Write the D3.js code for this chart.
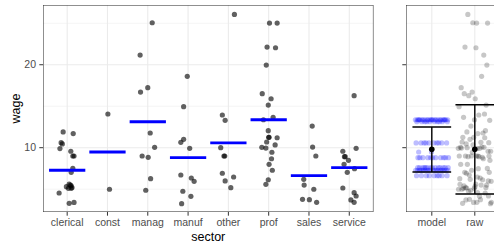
<!DOCTYPE html>
<html>
<head>
<meta charset="utf-8">
<script src="https://cdn.jsdelivr.net/npm/d3@7"></script>
<style>
  html, body { margin: 0; padding: 0; background: #fff; }
  svg { display: block; font-family: "Liberation Sans", Arial, sans-serif; }
</style>
</head>
<body>
<svg id="viz" width="494" height="248"></svg>
<script>
// wage by sector: jittered raw points + group means on the left,
// model fit vs raw data (mean +/- sd) on the right.

const sectors = ["clerical", "const", "manag", "manuf", "other", "prof", "sales", "service"];

// wages, one list per sector (same order as sectors)
const sectorWages = [
  [11.9, 11.7, 10.6, 10.45, 9.9, 9.57, 9.0, 9.0, 7.5, 7.03, 5.6, 5.5, 5.4, 5.3, 5.2, 5.1, 5.1, 4.54, 3.3, 3.4],
  [14.06, 4.99],
  [25.06, 21.17, 17.23, 16.71, 11.77, 10.05, 9.0, 8.84, 6.27, 4.87],
  [18.6, 14.94, 11.01, 10.65, 9.93, 6.71, 6.35, 5.95, 4.75, 4.14, 3.25],
  [26.07, 13.94, 13.3, 10.0, 9.0, 9.0, 6.92, 6.47, 5.99, 5.18],
  [25.02, 25.02, 22.13, 22.05, 19.96, 16.51, 15.9, 15.14, 13.66, 13.37, 12.05, 11.25, 11.25, 11.2,
   10.69, 10.33, 10.05, 9.96, 9.45, 8.67, 8.0, 7.28, 6.14, 5.59],
  [12.61, 10.08, 9.0, 6.19, 5.5, 4.99, 3.78, 3.73, 3.42],
  [16.27, 9.93, 9.57, 8.92, 8.92, 8.48, 8.0, 7.47, 7.03, 5.14, 4.58, 4.18, 3.7, 3.42],
];

// horizontal jitter of each left-panel point, in category units (parallel to sectorWages)
const sectorJitter = [
  [-0.1, 0.15, -0.15, -0.12, -0.18, 0.09, 0.14, 0.17, 0.14, 0.1, 0.05, 0.08, 0.1, -0.02, 0.12, 0.03, 0.1, -0.2, 0.05, 0.17],
  [0.01, 0.05],
  [0.11, -0.19, 0, -0.18, 0.06, 0.17, -0.14, 0.01, 0.07, -0.05],
  [-0.02, -0.11, -0.11, -0.18, 0.04, -0.18, 0.08, 0.15, -0.13, 0.07, -0.16],
  [0.15, -0.15, -0.08, -0.19, -0.11, -0.09, -0.15, 0.13, -0.08, 0.06],
  [0.02, 0.21, -0.04, 0.17, -0.06, -0.16, 0.06, -0.01, 0.11, -0.13, -0.01, 0.0, 0.01, 0.21,
   -0.05, 0.16, -0.17, -0.07, 0.08, 0.07, 0.01, 0.09, -0.01, -0.07],
  [0.08, 0.09, 0.17, -0.13, -0.12, 0.12, -0.16, 0.01, 0.19],
  [0.12, 0.17, -0.16, -0.12, -0.1, -0.02, -0.13, 0.13, -0.05, -0.16, 0.12, 0.17, 0.04, 0.12],
];

// group means (blue bars)
const sectorMeans = [7.28, 9.48, 13.13, 8.8, 10.57, 13.37, 6.63, 7.6];

// right panel: mean +/- sd for model fit and raw data
const compareGroups = ["model", "raw"];
const compareMean = [9.82, 9.82];
const compareLow = [7.07, 4.42];
const compareHigh = [12.49, 15.18];

const yTicks = [10, 20];
const yMinor = [5, 15, 25];

// ---------------------------------------------------------------

const svg = d3.select("#viz");

const panelTop = 5, panelBottom = 212;
const leftX0 = 43, leftStep = 40.3;
const rightX0 = 406, rightStep = 43;

const y = d3.scaleLinear().domain([2.25, 27.2]).range([panelBottom, panelTop]);

// discrete axes as linear index scales so jitter can pass through them
const xLeft = d3.scaleLinear()
  .domain([-0.6, sectors.length - 0.4])
  .range([leftX0, leftX0 + (sectors.length + 0.2) * leftStep]);
const xRight = d3.scaleLinear()
  .domain([-0.6, compareGroups.length - 0.4])
  .range([rightX0, rightX0 + (compareGroups.length + 0.2) * rightStep]);

const gridCol = "#ebebeb";
const borderCol = "#333333";
const tickTextCol = "#4d4d4d";

// flatten sector lists into point records
const points = [];
sectorWages.forEach((list, si) => {
  list.forEach((w, j) => {
    points.push({ sector: si, wage: w, jit: sectorJitter[si][j] });
  });
});

// deterministic spread for the right panel jitter (purely visual)
function spread(i, phase) {
  const f = (i * 0.6180339887 + phase) % 1;
  return (f - 0.5) * 0.78;
}

function drawPanel(x, cats, clipId) {
  const [x0, x1] = x.range();

  svg.append("clipPath").attr("id", clipId)
    .append("rect")
    .attr("x", x0).attr("y", panelTop)
    .attr("width", x1 - x0).attr("height", panelBottom - panelTop);

  const g = svg.append("g").attr("clip-path", `url(#${clipId})`);

  g.selectAll("line.minor")
    .data(yMinor)
    .enter()
    .append("line")
    .attr("x1", x0).attr("x2", x1)
    .attr("y1", (d) => y(d)).attr("y2", (d) => y(d))
    .attr("stroke", gridCol)
    .attr("stroke-width", 0.55);

  g.selectAll("line.majory")
    .data(yTicks)
    .enter()
    .append("line")
    .attr("x1", x0).attr("x2", x1)
    .attr("y1", (d) => y(d)).attr("y2", (d) => y(d))
    .attr("stroke", gridCol)
    .attr("stroke-width", 1.1);

  g.selectAll("line.majorx")
    .data(cats)
    .enter()
    .append("line")
    .attr("x1", (d, i) => x(i)).attr("x2", (d, i) => x(i))
    .attr("y1", panelTop).attr("y2", panelBottom)
    .attr("stroke", gridCol)
    .attr("stroke-width", 1.1);

  // x ticks + labels
  svg.selectAll(null)
    .data(cats)
    .enter()
    .append("line")
    .attr("x1", (d, i) => x(i)).attr("x2", (d, i) => x(i))
    .attr("y1", panelBottom).attr("y2", panelBottom + 3.7)
    .attr("stroke", borderCol)
    .attr("stroke-width", 1);

  svg.selectAll(null)
    .data(cats)
    .enter()
    .append("text")
    .attr("x", (d, i) => x(i))
    .attr("y", 226)
    .attr("text-anchor", "middle")
    .attr("font-size", "10.5px")
    .attr("fill", tickTextCol)
    .text((d) => d);

  // y ticks
  svg.selectAll(null)
    .data(yTicks)
    .enter()
    .append("line")
    .attr("x1", x0 - 3.7).attr("x2", x0)
    .attr("y1", (d) => y(d)).attr("y2", (d) => y(d))
    .attr("stroke", borderCol)
    .attr("stroke-width", 1);

  return g;
}

// ---- left panel ----
const gl = drawPanel(xLeft, sectors, "clipL");

gl.selectAll("circle.pt")
  .data(points)
  .enter()
  .append("circle")
  .attr("cx", (d) => xLeft(d.sector + d.jit))
  .attr("cy", (d) => y(d.wage))
  .attr("r", 2.6)
  .attr("fill", "#000")
  .attr("fill-opacity", 0.62);

gl.selectAll("line.mean")
  .data(sectorMeans)
  .enter()
  .append("line")
  .attr("x1", (d, i) => xLeft(i - 0.45))
  .attr("x2", (d, i) => xLeft(i + 0.45))
  .attr("y1", (d) => y(d)).attr("y2", (d) => y(d))
  .attr("stroke", "#0000ff")
  .attr("stroke-width", 2.8);

gl.append("rect")
  .attr("x", xLeft.range()[0]).attr("y", panelTop)
  .attr("width", xLeft.range()[1] - xLeft.range()[0])
  .attr("height", panelBottom - panelTop)
  .attr("fill", "none")
  .attr("stroke", borderCol)
  .attr("stroke-width", 1.1);

svg.selectAll(null)
  .data(yTicks)
  .enter()
  .append("text")
  .attr("x", 36)
  .attr("y", (d) => y(d))
  .attr("dy", "0.35em")
  .attr("text-anchor", "end")
  .attr("font-size", "10.5px")
  .attr("fill", tickTextCol)
  .text((d) => d);

svg.append("text")
  .attr("transform", `translate(20,${(panelTop + panelBottom) / 2}) rotate(-90)`)
  .attr("text-anchor", "middle")
  .attr("font-size", "12.5px")
  .attr("fill", "#000")
  .text("wage");

svg.append("text")
  .attr("x", (xLeft.range()[0] + xLeft.range()[1]) / 2)
  .attr("y", 241)
  .attr("text-anchor", "middle")
  .attr("font-size", "12.5px")
  .attr("fill", "#000")
  .text("sector");

// ---- right panel ----
const gr = drawPanel(xRight, compareGroups, "clipR");

// model: fitted value (sector mean) for every observation
gr.selectAll("circle.model")
  .data(points)
  .enter()
  .append("circle")
  .attr("cx", (d, i) => xRight(0 + spread(i, 0.13)))
  .attr("cy", (d) => y(sectorMeans[d.sector]))
  .attr("r", 2.6)
  .attr("fill", "#0000ff")
  .attr("fill-opacity", 0.26);

gr.selectAll("circle.raw")
  .data(points)
  .enter()
  .append("circle")
  .attr("cx", (d, i) => xRight(1 + spread(i * 7 + 3, 0.41)))
  .attr("cy", (d) => y(d.wage))
  .attr("r", 2.6)
  .attr("fill", "#000")
  .attr("fill-opacity", 0.22);

// error bars: vertical stem + caps
compareGroups.forEach((grp, i) => {
  const eb = gr.append("g").attr("stroke", "#000").attr("stroke-width", 1.4);
  eb.append("line")
    .attr("x1", xRight(i)).attr("x2", xRight(i))
    .attr("y1", y(compareLow[i])).attr("y2", y(compareHigh[i]));
  [compareLow[i], compareHigh[i]].forEach((v) => {
    eb.append("line")
      .attr("x1", xRight(i - 0.45)).attr("x2", xRight(i + 0.45))
      .attr("y1", y(v)).attr("y2", y(v));
  });
});

gr.selectAll("circle.mean")
  .data(compareMean)
  .enter()
  .append("circle")
  .attr("cx", (d, i) => xRight(i))
  .attr("cy", (d) => y(d))
  .attr("r", 2.8)
  .attr("fill", "#000");

gr.append("rect")
  .attr("x", xRight.range()[0]).attr("y", panelTop)
  .attr("width", xRight.range()[1] - xRight.range()[0])
  .attr("height", panelBottom - panelTop)
  .attr("fill", "none")
  .attr("stroke", borderCol)
  .attr("stroke-width", 1.1);
</script>
</body>
</html>
